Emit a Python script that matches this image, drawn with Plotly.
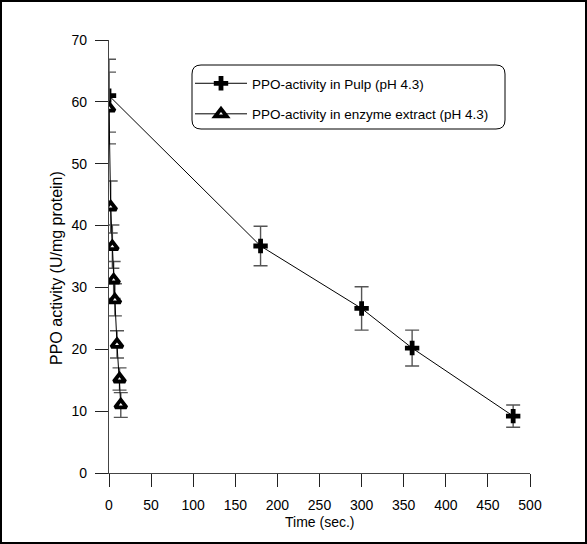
import plotly.graph_objects as go

# PPO activity over time
pulp_time = [0, 180, 300, 360, 480]
pulp_ppo = [61.0, 36.7, 26.6, 20.2, 9.2]
pulp_err = [5.9, 3.2, 3.5, 2.9, 1.8]

extract_time = [0, 2, 4, 5.5, 7, 9.5, 12.5, 14]
extract_ppo = [59.0, 43.0, 36.6, 31.2, 28.0, 20.8, 15.2, 11.0]
extract_err = [5.8, 4.2, 3.5, 3.0, 2.6, 2.2, 1.8, 2.0]

x_ticks = [0, 50, 100, 150, 200, 250, 300, 350, 400, 450, 500]
y_ticks = [0, 10, 20, 30, 40, 50, 60, 70]

FONT = "Liberation Sans, Arial, sans-serif"

# figure geometry (px)
W, H = 587, 544
ML, MR, MT, MB = 109, 57, 40, 71
PW, PH = W - ML - MR, H - MT - MB


def px_x(p):
    return (p - ML) / PW


def px_y(p):
    return (H - MB - p) / PH


err_style = dict(type="data", color="#555555", thickness=1.4, width=7)

fig = go.Figure()
fig.add_trace(go.Scatter(
    x=pulp_time, y=pulp_ppo,
    error_y=dict(array=pulp_err, **err_style),
    mode="lines+markers",
    name="PPO-activity in Pulp (pH 4.3)",
    line=dict(color="black", width=1),
    marker=dict(symbol="cross", size=12, color="black", line=dict(width=0)),
    legendgroup="a",
))
fig.add_trace(go.Scatter(
    x=extract_time, y=extract_ppo,
    error_y=dict(array=extract_err, **err_style),
    mode="lines+markers",
    name="PPO-activity in enzyme extract (pH 4.3)",
    line=dict(color="black", width=1),
    marker=dict(symbol="triangle-up", size=10, color="white",
                line=dict(color="black", width=3.8)),
    legendgroup="b",
))

# rounded legend box
x0, x1 = px_x(192), px_x(505)
y0, y1 = px_y(129), px_y(65)
rx, ry = 9 / PW, 9 / PH
box = (f"M {x0+rx},{y0} L {x1-rx},{y0} Q {x1},{y0} {x1},{y0+ry} "
       f"L {x1},{y1-ry} Q {x1},{y1} {x1-rx},{y1} L {x0+rx},{y1} "
       f"Q {x0},{y1} {x0},{y1-ry} L {x0},{y0+ry} Q {x0},{y0} {x0+rx},{y0} Z")

shapes = [
    dict(type="path", xref="paper", yref="paper", path=box,
         line=dict(color="black", width=1), fillcolor="white", layer="below"),
    dict(type="rect", xref="paper", yref="paper",
         x0=px_x(1), x1=px_x(586), y0=px_y(543), y1=px_y(1),
         line=dict(color="black", width=2)),
]

axis_common = dict(
    showgrid=False, zeroline=False, showline=True,
    linecolor="#444444", linewidth=1.3,
    ticks="outside", ticklen=13, tickwidth=1, tickcolor="#222222",
    tickfont=dict(family=FONT, size=14, color="black"),
)

annotations = [
    dict(text="Time (sec.)", xref="paper", yref="paper",
         x=px_x(319), y=px_y(522), xanchor="center", yanchor="middle",
         showarrow=False, font=dict(family=FONT, size=14, color="black")),
    dict(text="PPO activity (U/mg protein)", xref="paper", yref="paper",
         x=px_x(56), y=px_y(268), xanchor="center", yanchor="middle",
         textangle=-90, showarrow=False,
         font=dict(family=FONT, size=16, color="black")),
]

fig.update_layout(
    width=W, height=H,
    margin=dict(l=ML, r=MR, t=MT, b=MB, pad=0),
    paper_bgcolor="white", plot_bgcolor="white",
    font=dict(family=FONT, color="black"),
    shapes=shapes,
    annotations=annotations,
    showlegend=True,
    legend=dict(
        x=px_x(190), y=px_y(68), xanchor="left", yanchor="top",
        bgcolor="rgba(0,0,0,0)", borderwidth=0,
        font=dict(family=FONT, size=13.5, color="black"),
        tracegroupgap=10, itemwidth=52,
    ),
    xaxis=dict(
        range=[0, 500], tickvals=x_ticks, ticktext=[str(v) for v in x_ticks],
        ticklabelstandoff=6,
        **axis_common,
    ),
    yaxis=dict(
        range=[0, 70], tickvals=y_ticks, ticktext=[str(v) for v in y_ticks],
        ticklabelstandoff=5,
        **axis_common,
    ),
)

fig.write_html("out.html")
